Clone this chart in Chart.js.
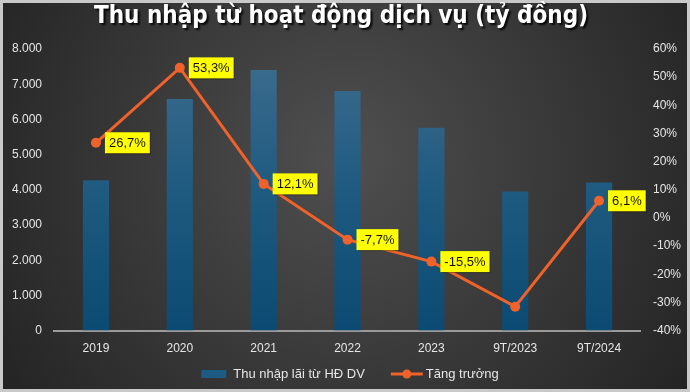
<!DOCTYPE html>
<html>
<head>
<meta charset="utf-8">
<script src="https://cdn.jsdelivr.net/npm/chart.js@4/dist/chart.umd.min.js"></script>
<style>
  html, body { margin: 0; padding: 0; background: #2a2a2a; }
  #wrap { width: 690px; height: 392px; }
</style>
</head>
<body>
<div id="wrap"><canvas id="dvChart" width="690" height="392"></canvas></div>
<script>
// data
const categories = ['2019', '2020', '2021', '2022', '2023', '9T/2023', '9T/2024'];
const thuNhap = [4270, 6580, 7400, 6810, 5760, 3950, 4210];
const tangTruong = [26.7, 53.3, 12.1, -7.7, -15.5, -31.5, 6.1];
const growthLabels = ['26,7%', '53,3%', '12,1%', '-7,7%', '-15,5%', null, '6,1%'];
const titleText = 'Thu nhập từ hoạt động dịch vụ (tỷ đồng)';
const seriesNames = ['Thu nhập lãi từ HĐ DV', 'Tăng trưởng'];

const ORANGE = '#f0622a';
const TXT = '#e6e6e6';
const FONT = "'Liberation Sans', Arial, sans-serif";

function fmtThousands(v) {
  return String(v).replace(/\B(?=(\d{3})+(?!\d))/g, '.');
}

// background + frame + title
const backdrop = {
  id: 'backdrop',
  beforeDraw(chart) {
    const { ctx, width, height } = chart;
    ctx.save();
    const g = ctx.createRadialGradient(width * 0.5, height * 0.4, 20, width * 0.5, height * 0.45, width * 0.6);
    g.addColorStop(0, '#4d4d4d');
    g.addColorStop(1, '#232323');
    ctx.fillStyle = g;
    ctx.fillRect(0, 0, width, height);
    ctx.strokeStyle = '#c9c9c9';
    ctx.lineWidth = 3;
    ctx.strokeRect(1.5, 1.5, width - 3, height - 3);

    ctx.font = "bold 24px 'Liberation Sans Narrow', 'DejaVu Sans Condensed', sans-serif";
    ctx.textAlign = 'center';
    ctx.textBaseline = 'middle';
    ctx.shadowColor = 'rgba(0,0,0,0.9)';
    ctx.shadowOffsetX = 2;
    ctx.shadowOffsetY = 2;
    ctx.shadowBlur = 2;
    ctx.fillStyle = '#ffffff';
    ctx.fillText(titleText, 341, 17, 510);
    ctx.restore();
  }
};

// yellow value boxes beside the line points
const growthTags = {
  id: 'growthTags',
  afterDatasetsDraw(chart) {
    const meta = chart.getDatasetMeta(1);
    const { ctx } = chart;
    ctx.save();
    ctx.font = '13px ' + FONT;
    ctx.textBaseline = 'middle';
    meta.data.forEach((pt, i) => {
      const txt = growthLabels[i];
      if (!txt) return;
      const w = ctx.measureText(txt).width + 8;
      const h = 21;
      const x = pt.x + 9;
      const y = pt.y - h / 2;
      ctx.fillStyle = 'rgba(0,0,0,0.35)';
      ctx.fillRect(x + 1, y + 1, w, h);
      ctx.fillStyle = '#ffff00';
      ctx.fillRect(x, y, w, h);
      ctx.fillStyle = '#111111';
      ctx.fillText(txt, x + 4, pt.y + 1);
    });
    ctx.restore();
  }
};

// legend drawn at bottom
const bottomLegend = {
  id: 'bottomLegend',
  afterDraw(chart) {
    const { ctx } = chart;
    ctx.save();
    ctx.font = '13px ' + FONT;
    ctx.textBaseline = 'middle';
    const w1 = ctx.measureText(seriesNames[0]).width;
    const w2 = ctx.measureText(seriesNames[1]).width;
    const total = 25 + 7 + w1 + 26 + 32 + 3 + w2;
    let x = 350 - total / 2;
    const y = 374;
    ctx.fillStyle = '#1d5b85';
    ctx.fillRect(x, y - 4, 25, 8);
    x += 32;
    ctx.fillStyle = TXT;
    ctx.fillText(seriesNames[0], x, y);
    x += w1 + 26;
    ctx.strokeStyle = ORANGE;
    ctx.lineWidth = 3;
    ctx.beginPath();
    ctx.moveTo(x, y);
    ctx.lineTo(x + 32, y);
    ctx.stroke();
    ctx.fillStyle = ORANGE;
    ctx.beginPath();
    ctx.arc(x + 16, y, 4.5, 0, Math.PI * 2);
    ctx.fill();
    x += 35;
    ctx.fillStyle = TXT;
    ctx.fillText(seriesNames[1], x, y);
    ctx.restore();
  }
};

function barGradient(context) {
  const area = context.chart.chartArea;
  if (!area) return '#1d5b85';
  const g = context.chart.ctx.createLinearGradient(0, area.top, 0, area.bottom);
  g.addColorStop(0, '#3d6d8e');
  g.addColorStop(0.5, '#1f5a80');
  g.addColorStop(1, '#0b4a72');
  return g;
}

const ctx = document.getElementById('dvChart').getContext('2d');
new Chart(ctx, {
  data: {
    labels: categories,
    datasets: [
      {
        type: 'bar',
        label: seriesNames[0],
        data: thuNhap,
        backgroundColor: barGradient,
        yAxisID: 'y',
        order: 2,
        categoryPercentage: 0.8,
        barPercentage: 0.39
      },
      {
        type: 'line',
        label: seriesNames[1],
        data: tangTruong,
        borderColor: ORANGE,
        backgroundColor: ORANGE,
        borderWidth: 3,
        pointRadius: 5,
        pointBackgroundColor: ORANGE,
        pointBorderWidth: 0,
        yAxisID: 'y1',
        order: 1,
        tension: 0
      }
    ]
  },
  options: {
    responsive: false,
    animation: false,
    layout: { padding: { top: 49, left: 8, right: 5, bottom: 33 } },
    plugins: {
      legend: { display: false },
      title: { display: false },
      tooltip: { enabled: false }
    },
    scales: {
      x: {
        grid: { display: false },
        border: { display: true, color: '#9a9a9a', width: 2 },
        ticks: { color: TXT, font: { family: FONT, size: 12 }, padding: 3 }
      },
      y: {
        position: 'left',
        min: 0,
        max: 8000,
        grid: { display: false },
        border: { display: false },
        ticks: {
          stepSize: 1000,
          color: TXT,
          font: { family: FONT, size: 12 },
          padding: 4,
          callback: v => fmtThousands(v)
        }
      },
      y1: {
        position: 'right',
        min: -40,
        max: 60,
        grid: { display: false },
        border: { display: false },
        ticks: {
          stepSize: 10,
          color: TXT,
          font: { family: FONT, size: 12 },
          padding: 4,
          callback: v => v + '%'
        }
      }
    }
  },
  plugins: [backdrop, growthTags, bottomLegend]
});
</script>
</body>
</html>
